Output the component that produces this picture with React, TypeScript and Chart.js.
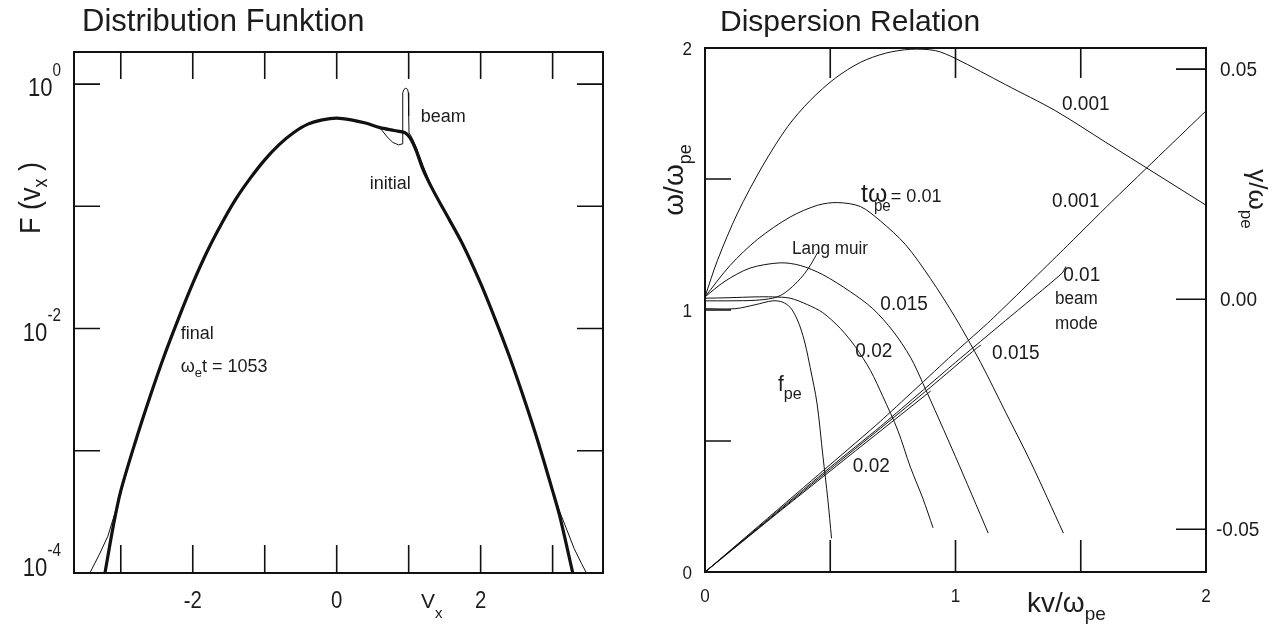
import React, { useEffect, useRef } from "react";
import { Chart, registerables } from "chart.js";
Chart.register(...registerables);

// ---------------- Left panel: distribution function ----------------
const finalV = [-3.22, -3.1, -3.0, -2.8, -2.6, -2.4, -2.2, -2.0, -1.8, -1.6, -1.4, -1.2, -1.0, -0.8, -0.6, -0.4, -0.2, 0, 0.2, 0.4, 0.6, 0.8, 0.95, 1.02, 1.1, 1.2, 1.34, 1.5, 1.75, 2.0, 2.2, 2.4, 2.6, 2.8, 3.0, 3.1, 3.28];
const finalF = [1.0e-4, 2.5e-4, 4.7e-4, 1.17e-3, 2.7e-3, 5.9e-3, 1.2e-2, 2.34e-2, 4.27e-2, 7.2e-2, 0.115, 0.17, 0.24, 0.32, 0.40, 0.47, 0.51, 0.527, 0.51, 0.48, 0.44, 0.417, 0.40, 0.363, 0.29, 0.20, 0.135, 0.091, 0.049, 0.0234, 0.012, 5.9e-3, 2.7e-3, 1.17e-3, 4.7e-4, 2.9e-4, 1.0e-4];

const initialV = [-3.43, -3.3, -3.18, -3.05, -2.8, -2.6, -2.4, -2.2, -2.0, -1.8, -1.6, -1.4, -1.2, -1.0, -0.8, -0.6, -0.4, -0.2, 0, 0.2, 0.4, 0.6, 0.7, 0.78, 0.86, 0.91, 0.915, 0.92, 0.935, 0.96, 0.985, 0.995, 1.0, 1.005, 1.05, 1.11, 1.2, 1.34, 1.5, 1.75, 2.0, 2.2, 2.4, 2.6, 2.8, 3.0, 3.1, 3.2, 3.3, 3.4, 3.47];
const initialF = [1.0e-4, 1.41e-4, 2.0e-4, 3.55e-4, 1.17e-3, 2.7e-3, 5.9e-3, 1.2e-2, 2.34e-2, 4.27e-2, 7.2e-2, 0.115, 0.17, 0.24, 0.32, 0.40, 0.47, 0.51, 0.527, 0.51, 0.48, 0.44, 0.37, 0.333, 0.318, 0.324, 0.55, 0.85, 0.905, 0.925, 0.905, 0.85, 0.55, 0.40, 0.36, 0.30, 0.215, 0.135, 0.091, 0.049, 0.0234, 0.012, 5.9e-3, 2.7e-3, 1.17e-3, 4.7e-4, 3.16e-4, 2.24e-4, 1.58e-4, 1.2e-4, 1.0e-4];

const distXTicks = [-3, -2, -1, 0, 1, 2, 3];
const distXLabels = ["-2", "0", "2"];
const distYTicks = [1, 0.1, 0.01, 0.001];
const distYLabels = [1, 0.01, 0.0001];
const distYExponents = ["0", "-2", "-4"];

// ---------------- Right panel: dispersion relation ----------------
const kA = [0, 0.05, 0.13, 0.23, 0.33, 0.42, 0.52, 0.62, 0.72, 0.82, 0.92, 1.0, 1.2, 1.4, 1.6, 1.8, 2.0];
const wA = [1.05, 1.19, 1.37, 1.55, 1.70, 1.80, 1.885, 1.945, 1.98, 1.995, 1.99, 1.96, 1.86, 1.76, 1.64, 1.52, 1.40];
const kB = [0, 0.1, 0.21, 0.34, 0.45, 0.53, 0.62, 0.7, 0.8, 0.9, 1.0, 1.1, 1.2, 1.3, 1.43];
const wB = [1.05, 1.17, 1.27, 1.355, 1.40, 1.41, 1.395, 1.34, 1.25, 1.12, 0.97, 0.80, 0.61, 0.42, 0.15];
const kC = [0, 0.08, 0.18, 0.30, 0.38, 0.47, 0.58, 0.67, 0.75, 0.82, 0.87, 1.0, 1.13];
const wC = [1.05, 1.11, 1.16, 1.18, 1.17, 1.135, 1.07, 1.005, 0.92, 0.82, 0.72, 0.44, 0.15];
const kD = [0, 0.1, 0.2, 0.27, 0.34, 0.41, 0.47, 0.54, 0.6, 0.66, 0.71, 0.77, 0.82, 0.87, 0.91];
const wD = [1.045, 1.047, 1.05, 1.05, 1.045, 1.02, 0.99, 0.93, 0.86, 0.77, 0.67, 0.54, 0.40, 0.28, 0.17];
const kFpe = [0, 0.12, 0.2, 0.27, 0.31, 0.34, 0.36, 0.38, 0.40, 0.42, 0.447, 0.471, 0.49, 0.505];
const wFpe = [1.005, 1.005, 1.02, 1.035, 1.03, 1.01, 0.98, 0.935, 0.87, 0.78, 0.645, 0.44, 0.28, 0.13];
const kLang = [0, 0.1, 0.2, 0.27, 0.31, 0.35, 0.39, 0.42, 0.45];
const wLang = [1.035, 1.035, 1.037, 1.045, 1.06, 1.09, 1.13, 1.17, 1.22];
const kBeam1 = [0, 0.5, 0.7, 1.0, 1.14, 1.43, 1.62, 2.0];
const wBeam1 = [0, 0.41, 0.575, 0.84, 0.96, 1.23, 1.41, 1.76];
const kBeam2 = [0, 0.5, 0.7, 1.0, 1.2, 1.425, 1.44];
const wBeam2 = [0, 0.40, 0.555, 0.80, 0.96, 1.14, 1.165];
const kBeam3 = [0, 0.5, 0.7, 0.9, 1.085, 1.1];
const wBeam3 = [0, 0.393, 0.548, 0.705, 0.855, 0.865];
const kBeam4 = [0, 0.3, 0.6, 0.9];
const wBeam4 = [0, 0.233, 0.462, 0.69];

const dispXTicks = [0.5, 1, 1.5];
const dispXLabels = [0, 1, 2];
const dispYTicks = [0.5, 1, 1.5];
const dispYLabels = [0, 1, 2];
const gammaTicks = [0.05, 0, -0.05];
const gammaLabels = ["0.05", "0.00", "-0.05"];

const INK = "#111111";
const TEXT = "#1c1c1c";
const FONT = '"Liberation Sans", Arial, sans-serif';

type Seg = { t: string; size?: number; dy?: number; dx?: number };

function drawRich(ctx: CanvasRenderingContext2D, x: number, y: number, segs: Seg[], base: number, align: "left" | "center" | "right" = "left", rot = 0, sx = 1) {
  ctx.save();
  ctx.translate(x, y);
  if (rot) ctx.rotate(rot);
  ctx.scale(sx, 1);
  ctx.fillStyle = TEXT;
  ctx.textBaseline = "alphabetic";
  ctx.textAlign = "left";
  const items = segs.map((s) => {
    const fs = s.size ?? base;
    ctx.font = `${fs}px ${FONT}`;
    return { s, fs, w: ctx.measureText(s.t).width + (s.dx ?? 0) };
  });
  const total = items.reduce((a, b) => a + b.w, 0);
  let cx = align === "center" ? -total / 2 : align === "right" ? -total : 0;
  for (const it of items) {
    ctx.font = `${it.fs}px ${FONT}`;
    cx += it.s.dx ?? 0;
    ctx.fillText(it.s.t, cx, it.s.dy ?? 0);
    cx += it.w - (it.s.dx ?? 0);
  }
  ctx.restore();
}

const distNotes: { v: number; f: number; segs: Seg[] }[] = [
  { v: 1.167, f: 0.557, segs: [{ t: "beam" }] },
  { v: 0.458, f: 0.158, segs: [{ t: "initial" }] },
  { v: -2.167, f: 9.2e-3, segs: [{ t: "final" }] },
  { v: -2.167, f: 5.0e-3, segs: [{ t: "ω" }, { t: "e", size: 13, dy: 5 }, { t: "t = 1053" }] },
];

const dispNotes: { k: number; w: number; segs: Seg[]; size?: number }[] = [
  { k: 1.425, w: 1.79, segs: [{ t: "0.001" }] },
  { k: 0.623, w: 1.44, segs: [{ t: "tω", size: 26 }, { t: "pe", size: 16, dy: 9, dx: -14 }, { t: "= 0.01", size: 19 }] },
  { k: 0.347, w: 1.24, segs: [{ t: "Lang muir" }], size: 18 },
  { k: 0.70, w: 1.027, segs: [{ t: "0.015" }] },
  { k: 0.60, w: 0.847, segs: [{ t: "0.02" }] },
  { k: 0.291, w: 0.72, segs: [{ t: "f", size: 22 }, { t: "pe", size: 17, dy: 8 }] },
  { k: 0.59, w: 0.408, segs: [{ t: "0.02" }] },
  { k: 1.385, w: 1.42, segs: [{ t: "0.001" }] },
  { k: 1.43, w: 1.14, segs: [{ t: "0.01" }] },
  { k: 1.397, w: 1.046, segs: [{ t: "beam" }], size: 18 },
  { k: 1.397, w: 0.954, segs: [{ t: "mode" }], size: 18 },
  { k: 1.146, w: 0.84, segs: [{ t: "0.015" }] },
];

function line(xs: number[], ys: number[], width: number, tension: number, order = 1) {
  return {
    data: xs.map((x, i) => ({ x, y: ys[i] })),
    showLine: true,
    borderColor: INK,
    backgroundColor: INK,
    borderWidth: width,
    pointRadius: 0,
    tension,
    fill: false,
    order,
    borderCapStyle: "round" as const,
    borderJoinStyle: "round" as const,
  };
}

const distPlugin = {
  id: "distDeco",
  afterDraw(chart: any) {
    const ctx: CanvasRenderingContext2D = chart.ctx;
    const a = chart.chartArea;
    const xs = chart.scales.x;
    const ys = chart.scales.y;
    ctx.save();
    ctx.strokeStyle = INK;
    ctx.lineWidth = 2;
    ctx.strokeRect(a.left, a.top, a.right - a.left, a.bottom - a.top);
    ctx.lineWidth = 1.6;
    ctx.beginPath();
    for (const v of distXTicks) {
      const px = xs.getPixelForValue(v);
      ctx.moveTo(px, a.top);
      ctx.lineTo(px, a.top + 27);
      ctx.moveTo(px, a.bottom);
      ctx.lineTo(px, a.bottom - 28);
    }
    for (const f of distYTicks) {
      const py = ys.getPixelForValue(f);
      ctx.moveTo(a.left, py);
      ctx.lineTo(a.left + 26, py);
      ctx.moveTo(a.right, py);
      ctx.lineTo(a.right - 26, py);
    }
    ctx.stroke();
    ctx.restore();

    // title
    drawRich(ctx, a.left + 8, 31, [{ t: "Distribution Funktion" }], 31);
    // y tick labels
    distYLabels.forEach((f, i) => {
      const py = ys.getPixelForValue(f);
      const mid = Math.min(py + 3, a.bottom - 6);
      drawRich(ctx, a.left - 13, mid + 0.36 * 26, [{ t: "10" }, { t: distYExponents[i], size: 18, dy: -20 }], 26, "right", 0, 0.85);
    });
    // x tick labels
    distXLabels.forEach((s) => {
      const px = xs.getPixelForValue(Number(s));
      drawRich(ctx, px, a.bottom + 26 + 0.36 * 24, [{ t: s }], 24, "center", 0, 0.85);
    });
    // axis titles
    drawRich(ctx, a.left + 347, a.bottom + 35, [{ t: "V" }, { t: "x", size: 15, dy: 10 }], 21);
    drawRich(ctx, a.left - 34, 198, [{ t: "F (v" }, { t: "x", size: 20, dy: 7 }, { t: " )" }], 30, "center", -Math.PI / 2, 0.9);
    // annotations
    for (const n of distNotes) {
      const px = xs.getPixelForValue(n.v);
      const py = ys.getPixelForValue(n.f);
      drawRich(ctx, px, py + 0.36 * 18, n.segs, 18);
    }
  },
};

const dispPlugin = {
  id: "dispDeco",
  afterDraw(chart: any) {
    const ctx: CanvasRenderingContext2D = chart.ctx;
    const a = chart.chartArea;
    const xs = chart.scales.x;
    const ys = chart.scales.y;
    const gs = chart.scales.y2;
    ctx.save();
    ctx.strokeStyle = INK;
    ctx.lineWidth = 2;
    ctx.strokeRect(a.left, a.top, a.right - a.left, a.bottom - a.top);
    ctx.lineWidth = 1.6;
    ctx.beginPath();
    for (const v of dispXTicks) {
      const px = xs.getPixelForValue(v);
      ctx.moveTo(px, a.top);
      ctx.lineTo(px, a.top + 30);
      ctx.moveTo(px, a.bottom);
      ctx.lineTo(px, a.bottom - 32);
    }
    for (const v of dispYTicks) {
      const py = ys.getPixelForValue(v);
      ctx.moveTo(a.left, py);
      ctx.lineTo(a.left + 26, py);
    }
    for (const g of gammaTicks) {
      const py = gs.getPixelForValue(g);
      ctx.moveTo(a.right, py);
      ctx.lineTo(a.right - 30, py);
    }
    ctx.stroke();
    ctx.restore();

    drawRich(ctx, a.left + 15, 31, [{ t: "Dispersion Relation" }], 30);
    dispYLabels.forEach((v) => {
      const py = ys.getPixelForValue(v);
      drawRich(ctx, a.left - 13, py + 0.36 * 19, [{ t: String(v) }], 19, "right", 0, 0.9);
    });
    dispXLabels.forEach((v) => {
      const px = xs.getPixelForValue(v);
      drawRich(ctx, px, a.bottom + 23 + 0.36 * 19, [{ t: String(v) }], 19, "center", 0, 0.9);
    });
    gammaTicks.forEach((g, i) => {
      const py = gs.getPixelForValue(g);
      drawRich(ctx, a.right + (g < 0 ? 10 : 14), py + 0.36 * 20, [{ t: gammaLabels[i] }], 20, "left", 0, 0.95);
    });
    drawRich(ctx, a.left + 322, a.bottom + 40, [{ t: "kv/ω" }, { t: "pe", size: 19, dy: 8 }], 28);
    drawRich(ctx, a.left - 22, 180, [{ t: "ω/ω" }, { t: "pe", size: 18, dy: 8 }], 28, "center", -Math.PI / 2);
    drawRich(ctx, a.right + 43, 199, [{ t: "γ/ω" }, { t: "pe", size: 17, dy: 8 }], 26, "center", Math.PI / 2);
    for (const n of dispNotes) {
      const px = xs.getPixelForValue(n.k);
      const py = ys.getPixelForValue(n.w);
      const size = n.size ?? 20;
      drawRich(ctx, px, py + 0.36 * size, n.segs, size, "left", 0, 0.95);
    }
  },
};

export default function App() {
  const leftRef = useRef<HTMLCanvasElement | null>(null);
  const rightRef = useRef<HTMLCanvasElement | null>(null);

  useEffect(() => {
    const common = {
      responsive: false,
      animation: false as const,
      events: [] as any[],
      plugins: { legend: { display: false }, tooltip: { enabled: false } },
    };
    const left = new Chart(leftRef.current as HTMLCanvasElement, {
      type: "scatter",
      data: {
        datasets: [
          line(finalV, finalF, 3.2, 0.3, 0),
          line(initialV, initialF, 1, 0, 1),
        ] as any,
      },
      options: {
        ...common,
        layout: { padding: { left: 74, top: 52, right: 42, bottom: 52 } },
        scales: {
          x: { type: "linear", min: -3.65, max: 3.7, display: false },
          y: { type: "logarithmic", min: 1e-4, max: 1.83, display: false },
        },
      } as any,
      plugins: [distPlugin],
    });
    const right = new Chart(rightRef.current as HTMLCanvasElement, {
      type: "scatter",
      data: {
        datasets: [
          line(kA, wA, 1, 0.3),
          line(kB, wB, 1, 0.3),
          line(kC, wC, 1, 0.3),
          line(kD, wD, 1, 0.3),
          line(kFpe, wFpe, 1, 0.3),
          line(kLang, wLang, 1, 0.3),
          line(kBeam1, wBeam1, 1, 0.2),
          line(kBeam2, wBeam2, 1, 0.2),
          line(kBeam3, wBeam3, 1, 0.2),
          line(kBeam4, wBeam4, 1, 0),
        ] as any,
      },
      options: {
        ...common,
        layout: { padding: { left: 60, top: 48, right: 77, bottom: 53 } },
        scales: {
          x: { type: "linear", min: 0, max: 2, display: false },
          y: { type: "linear", min: 0, max: 2, display: false },
          y2: { type: "linear", position: "right", min: -0.0593, max: 0.0546, display: false },
        },
      } as any,
      plugins: [dispPlugin],
    });
    return () => {
      left.destroy();
      right.destroy();
    };
  }, []);

  return (
    <div style={{ position: "absolute", left: 0, top: 0, width: 1283, height: 625, background: "#ffffff", overflow: "hidden" }}>
      <canvas ref={leftRef} width={645} height={625} style={{ position: "absolute", left: 0, top: 0, width: 645, height: 625 }} />
      <canvas ref={rightRef} width={638} height={625} style={{ position: "absolute", left: 645, top: 0, width: 638, height: 625 }} />
    </div>
  );
}
